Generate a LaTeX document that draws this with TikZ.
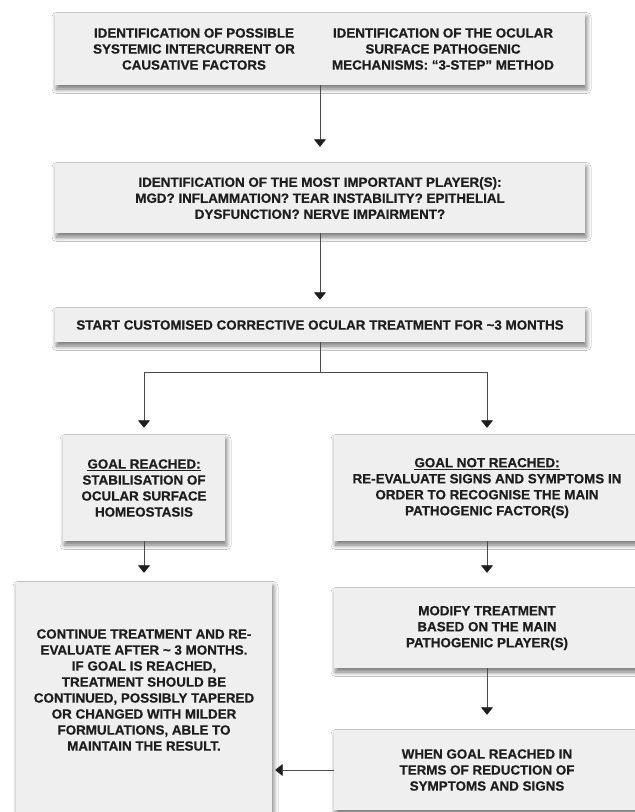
\documentclass[tikz,border=0pt]{standalone}
\usepackage{fontspec}
\setmainfont{Liberation Sans}[BoldFeatures={FakeBold=0.6}]
\usetikzlibrary{arrows.meta,shadows.blur}
\definecolor{boxgray}{RGB}{239,239,239}
\definecolor{textblack}{RGB}{30,30,30}
\definecolor{linegray}{RGB}{75,75,75}
\begin{document}
\begin{tikzpicture}[x=1pt,y=-1pt,
  box/.style={draw=none, fill=boxgray, inner sep=0pt,
    blur shadow={shadow xshift=1.5pt, shadow yshift=-4pt, shadow blur radius=4.5pt, shadow blur steps=8, shadow opacity=55}},
  txt/.style={font=\fontsize{13.4}{16}\selectfont\bfseries, align=center, text=textblack, inner sep=0pt},
  conn/.style={draw=linegray, line width=0.8pt},
  arr/.style={conn, -{Triangle[width=12pt,length=7.5pt,color=textblack]}},
]
\useasboundingbox[fill=white] (0,0) rectangle (635,812);

% boxes
\node[box, minimum width=530pt, minimum height=72pt] (b1) at (320,49) {};
\node[txt] (b1l) at (194,49) {IDENTIFICATION OF POSSIBLE\\SYSTEMIC INTERCURRENT OR\\CAUSATIVE FACTORS};
\node[txt] (b1r) at (443,49) {IDENTIFICATION OF THE OCULAR\\SURFACE PATHOGENIC\\MECHANISMS: “3-STEP” METHOD};

\node[box, txt, minimum width=530pt, minimum height=70pt] (b2) at (320,198)
  {IDENTIFICATION OF THE MOST IMPORTANT PLAYER(S):\\MGD? INFLAMMATION? TEAR INSTABILITY? EPITHELIAL\\DYSFUNCTION? NERVE IMPAIRMENT?};

\node[box, txt, minimum width=530pt, minimum height=34pt] (b3) at (320,325)
  {START CUSTOMISED CORRECTIVE OCULAR TREATMENT FOR \textasciitilde3 MONTHS};

\node[box, txt, minimum width=162pt, minimum height=106pt] (b4) at (144,488)
  {\underline{GOAL REACHED:}\\STABILISATION OF\\OCULAR SURFACE\\HOMEOSTASIS};

\node[box, txt, minimum width=306pt, minimum height=106pt] (b5) at (487,488)
  {\underline{GOAL NOT REACHED:}\\RE-EVALUATE SIGNS AND SYMPTOMS IN\\ORDER TO RECOGNISE THE MAIN\\PATHOGENIC FACTOR(S)};

\node[box, minimum width=256pt, minimum height=250pt] (b6) at (144,707) {};
\node[txt] (b6t) at (144,690) {CONTINUE TREATMENT AND RE-\\EVALUATE AFTER \textasciitilde{} 3 MONTHS.\\IF GOAL IS REACHED,\\TREATMENT SHOULD BE\\CONTINUED, POSSIBLY TAPERED\\OR CHANGED WITH MILDER\\FORMULATIONS, ABLE TO\\MAINTAIN THE RESULT.};

\node[box, txt, minimum width=306pt, minimum height=80pt] (b7) at (487,628)
  {MODIFY TREATMENT\\BASED ON THE MAIN\\PATHOGENIC PLAYER(S)};

\node[box, txt, minimum width=306pt, minimum height=80pt] (b8) at (487,770)
  {WHEN GOAL REACHED IN\\TERMS OF REDUCTION OF\\SYMPTOMS AND SIGNS};

% connectors
\coordinate (split) at (320,372);
\draw[arr, shorten >=16pt] (b1.south) -- (b2.north);
\draw[arr, shorten >=8pt] (b2.south) -- (b3.north);
\draw[conn] (b3.south) -- (split);
\draw[arr, shorten >=7pt] (split) -| (b4.north);
\draw[arr, shorten >=7pt] (split) -| (b5.north);
\draw[arr, shorten >=9pt] (b4.south) -- (b4.south |- b6.north);
\draw[arr, shorten >=15pt] (b5.south) -- (b7.north);
\draw[arr, shorten >=15pt] (b7.south) -- (b8.north);
\draw[arr, shorten >=3pt] (b8.west) -- (b8.west -| b6.east);
\end{tikzpicture}
\end{document}
